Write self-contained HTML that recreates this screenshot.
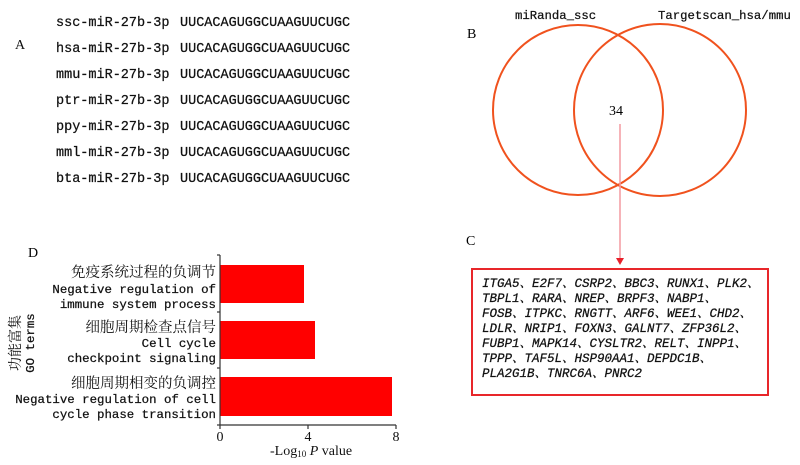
<!DOCTYPE html>
<html><head><meta charset="utf-8"><style>
html,body{margin:0;padding:0;background:#fff;}
svg{display:block;}
.m{font-family:"Liberation Mono","Noto Serif CJK SC",monospace;stroke:#111;stroke-width:0.25;}
.s{font-family:"Liberation Serif","Noto Serif CJK SC",serif;}
.c{font-family:"Noto Serif CJK SC","Liberation Serif",serif;}
</style></head><body>
<svg width="800" height="465" viewBox="0 0 800 465" xmlns="http://www.w3.org/2000/svg">
<g class="m" font-size="13.5" fill="#111">
<text x="15" y="49" class="s" font-size="14" stroke="none">A</text>
<text x="56" y="26">ssc-miR-27b-3p</text><text x="180" y="26">UUCACAGUGGCUAAGUUCUGC</text>
<text x="56" y="52">hsa-miR-27b-3p</text><text x="180" y="52">UUCACAGUGGCUAAGUUCUGC</text>
<text x="56" y="78">mmu-miR-27b-3p</text><text x="180" y="78">UUCACAGUGGCUAAGUUCUGC</text>
<text x="56" y="104">ptr-miR-27b-3p</text><text x="180" y="104">UUCACAGUGGCUAAGUUCUGC</text>
<text x="56" y="130">ppy-miR-27b-3p</text><text x="180" y="130">UUCACAGUGGCUAAGUUCUGC</text>
<text x="56" y="156">mml-miR-27b-3p</text><text x="180" y="156">UUCACAGUGGCUAAGUUCUGC</text>
<text x="56" y="182">bta-miR-27b-3p</text><text x="180" y="182">UUCACAGUGGCUAAGUUCUGC</text>
</g>
<!-- Venn -->
<g fill="none" stroke="#f0521e" stroke-width="2">
<circle cx="578" cy="110" r="85"/>
<circle cx="660" cy="110" r="86"/>
</g>
<g class="m" font-size="12.3" fill="#111">
<text x="515" y="19">miRanda_ssc</text>
<text x="658" y="19">Targetscan_hsa/mmu</text>
</g>
<text x="467" y="38" class="s" font-size="14">B</text>
<text x="609" y="115" class="s" font-size="14">34</text>
<line x1="620" y1="124" x2="620" y2="259" stroke="#f49aa0" stroke-width="1.5"/>
<polygon points="616,258 624,258 620,265" fill="#e8202a"/>
<text x="466" y="245" class="s" font-size="14">C</text>
<rect x="472" y="269" width="296" height="126" fill="none" stroke="#e8262a" stroke-width="2"/>
<g class="m" font-size="12.5" font-style="italic" fill="#111">
<text x="482" y="287">ITGA5、E2F7、CSRP2、BBC3、RUNX1、PLK2、</text>
<text x="482" y="302">TBPL1、RARA、NREP、BRPF3、NABP1、</text>
<text x="482" y="317">FOSB、ITPKC、RNGTT、ARF6、WEE1、CHD2、</text>
<text x="482" y="332">LDLR、NRIP1、FOXN3、GALNT7、ZFP36L2、</text>
<text x="482" y="347">FUBP1、MAPK14、CYSLTR2、RELT、INPP1、</text>
<text x="482" y="362">TPPP、TAF5L、HSP90AA1、DEPDC1B、</text>
<text x="482" y="377">PLA2G1B、TNRC6A、PNRC2</text>
</g>
<!-- D -->
<text x="28" y="257" class="s" font-size="14">D</text>
<rect x="220" y="265" width="84" height="38" fill="#f00"/>
<rect x="220" y="321" width="95" height="38" fill="#f00"/>
<rect x="220" y="377" width="172" height="39" fill="#f00"/>
<g stroke="#333" stroke-width="1.2">
<line x1="220" y1="255" x2="220" y2="425"/>
<line x1="220" y1="425" x2="396" y2="425"/>
<line x1="217" y1="255" x2="220" y2="255"/>
<line x1="217" y1="312" x2="220" y2="312"/>
<line x1="217" y1="368" x2="220" y2="368"/>
<line x1="217" y1="425" x2="220" y2="425"/>
<line x1="220" y1="425" x2="220" y2="429"/>
<line x1="308" y1="425" x2="308" y2="429"/>
<line x1="396" y1="425" x2="396" y2="429"/>
</g>
<g class="s" font-size="14" fill="#111" text-anchor="middle">
<text x="220" y="441">0</text><text x="308" y="441">4</text><text x="396" y="441">8</text>
</g>
<text x="270" y="455" class="s" font-size="14" fill="#111">-Log<tspan font-size="9" dy="2">10</tspan><tspan dy="-2" font-style="italic"> P</tspan> value</text>
<g fill="#111" text-anchor="end">
<text x="216" y="277" class="c" font-size="14.5">免疫系统过程的负调节</text>
<text x="216" y="293" class="m" font-size="12.4">Negative regulation of</text>
<text x="216" y="308" class="m" font-size="12.4">immune system process</text>
<text x="216" y="332" class="c" font-size="14.5">细胞周期检查点信号</text>
<text x="216" y="347" class="m" font-size="12.4">Cell cycle</text>
<text x="216" y="362" class="m" font-size="12.4">checkpoint signaling</text>
<text x="216" y="388" class="c" font-size="14.5">细胞周期相变的负调控</text>
<text x="216" y="403" class="m" font-size="12.4">Negative regulation of cell</text>
<text x="216" y="418" class="m" font-size="12.4">cycle phase transition</text>
</g>
<g transform="translate(20,343) rotate(-90)" text-anchor="middle" fill="#111">
<text x="0" y="0" class="c" font-size="14">功能富集</text>
<text x="0" y="14" class="m" font-size="12.4">GO terms</text>
</g>
</svg>
</body></html>
